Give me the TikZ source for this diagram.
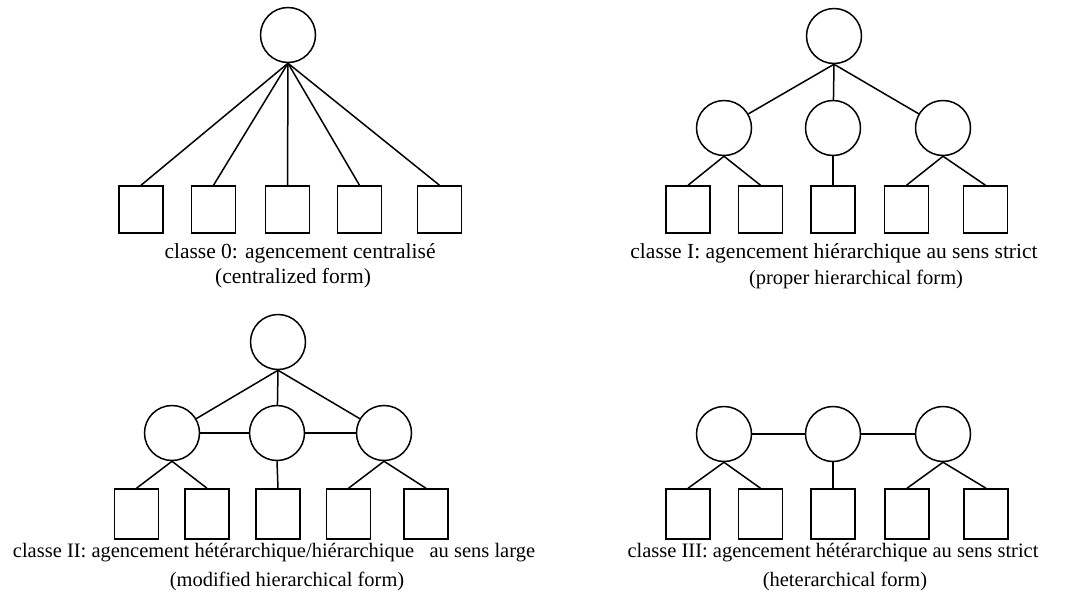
\documentclass[tikz,border=0pt]{standalone}
\usepackage{fontspec}
\setmainfont{Liberation Serif}
\begin{document}
\begin{tikzpicture}[x=1pt,y=-1pt,
  every node/.style={inner sep=0pt},
  unit/.style={draw,circle,line width=1.5pt,minimum size=55pt},
  leaf/.style={draw,rectangle,line width=1.5pt,minimum width=44pt,minimum height=47pt},
  leafb/.style={leaf,minimum height=50pt},
  link/.style={line width=1.5pt},
  captxt/.style={font=\fontsize{21.5}{26}\selectfont,anchor=base},
  captxtb/.style={font=\fontsize{20.5}{25}\selectfont,anchor=base}
]
\useasboundingbox (0,0) rectangle (1067,595);

% ---------- classe 0 ----------
\node[unit] (A) at (288,35) {};
\node[leaf] (A1) at (141,209.5) {};
\node[leaf] (A2) at (213.5,209.5) {};
\node[leaf] (A3) at (287.5,209.5) {};
\node[leaf] (A4) at (359.5,209.5) {};
\node[leaf] (A5) at (439.5,209.5) {};
\foreach \s in {A1,A2,A3,A4,A5} \draw[link] (A.south) -- (\s.north);
\node[captxt] (Acap1) at (300,258) {classe 0: agencement centralisé};
\node[captxt] (Acap2) at (293,283) {(centralized form)};

% ---------- classe I ----------
\node[unit] (B) at (834,36) {};
\node[unit] (B1) at (724,128) {};
\node[unit] (B2) at (833,128) {};
\node[unit] (B3) at (943,128) {};
\node[leaf] (Bs1) at (688,209.5) {};
\node[leaf] (Bs2) at (760.5,209.5) {};
\node[leaf] (Bs3) at (833,209.5) {};
\node[leaf] (Bs4) at (906.5,209.5) {};
\node[leaf] (Bs5) at (985.5,209.5) {};
\foreach \m in {B1,B2,B3} \draw[link] (B.south) -- (\m);
\draw[link] (B1.south) -- (Bs1.north);
\draw[link] (B1.south) -- (Bs2.north);
\draw[link] (B2.south) -- (Bs3.north);
\draw[link] (B3.south) -- (Bs4.north);
\draw[link] (B3.south) -- (Bs5.north);
\node[captxt] (Bcap1) at (834,258) {classe I: agencement hiérarchique au sens strict};
\node[captxtb] (Bcap2) at (856,284) {(proper hierarchical form)};

% ---------- classe II ----------
\node[unit] (C) at (278,342) {};
\node[unit] (C1) at (172,433) {};
\node[unit] (C2) at (277,433) {};
\node[unit] (C3) at (384,433) {};
\node[leafb] (Cs1) at (136.5,514) {};
\node[leafb] (Cs2) at (207,514) {};
\node[leafb] (Cs3) at (278,514) {};
\node[leafb] (Cs4) at (348.5,514) {};
\node[leafb] (Cs5) at (426,514) {};
\foreach \m in {C1,C2,C3} \draw[link] (C.south) -- (\m);
\draw[link] (C1) -- (C2);
\draw[link] (C2) -- (C3);
\draw[link] (C1.south) -- (Cs1.north);
\draw[link] (C1.south) -- (Cs2.north);
\draw[link] (C2.south) -- (Cs3.north);
\draw[link] (C3.south) -- (Cs4.north);
\draw[link] (C3.south) -- (Cs5.north);
\node[captxtb] (Ccap1) at (274,557) {classe II: agencement hétérarchique/hiérarchique\ \ \ au sens large};
\node[captxtb] (Ccap2) at (287,586) {(modified hierarchical form)};

% ---------- classe III ----------
\node[unit] (D1) at (724,434) {};
\node[unit] (D2) at (833,434) {};
\node[unit] (D3) at (943,434) {};
\node[leafb] (Ds1) at (688,514) {};
\node[leafb] (Ds2) at (760.5,514) {};
\node[leafb] (Ds3) at (833,514) {};
\node[leafb] (Ds4) at (907,514) {};
\node[leafb] (Ds5) at (986,514) {};
\draw[link] (D1) -- (D2);
\draw[link] (D2) -- (D3);
\draw[link] (D1.south) -- (Ds1.north);
\draw[link] (D1.south) -- (Ds2.north);
\draw[link] (D2.south) -- (Ds3.north);
\draw[link] (D3.south) -- (Ds4.north);
\draw[link] (D3.south) -- (Ds5.north);
\node[captxtb] (Dcap1) at (833,557) {classe III: agencement hétérarchique au sens strict};
\node[captxtb] (Dcap2) at (845,586) {(heterarchical form)};
\end{tikzpicture}
\end{document}
